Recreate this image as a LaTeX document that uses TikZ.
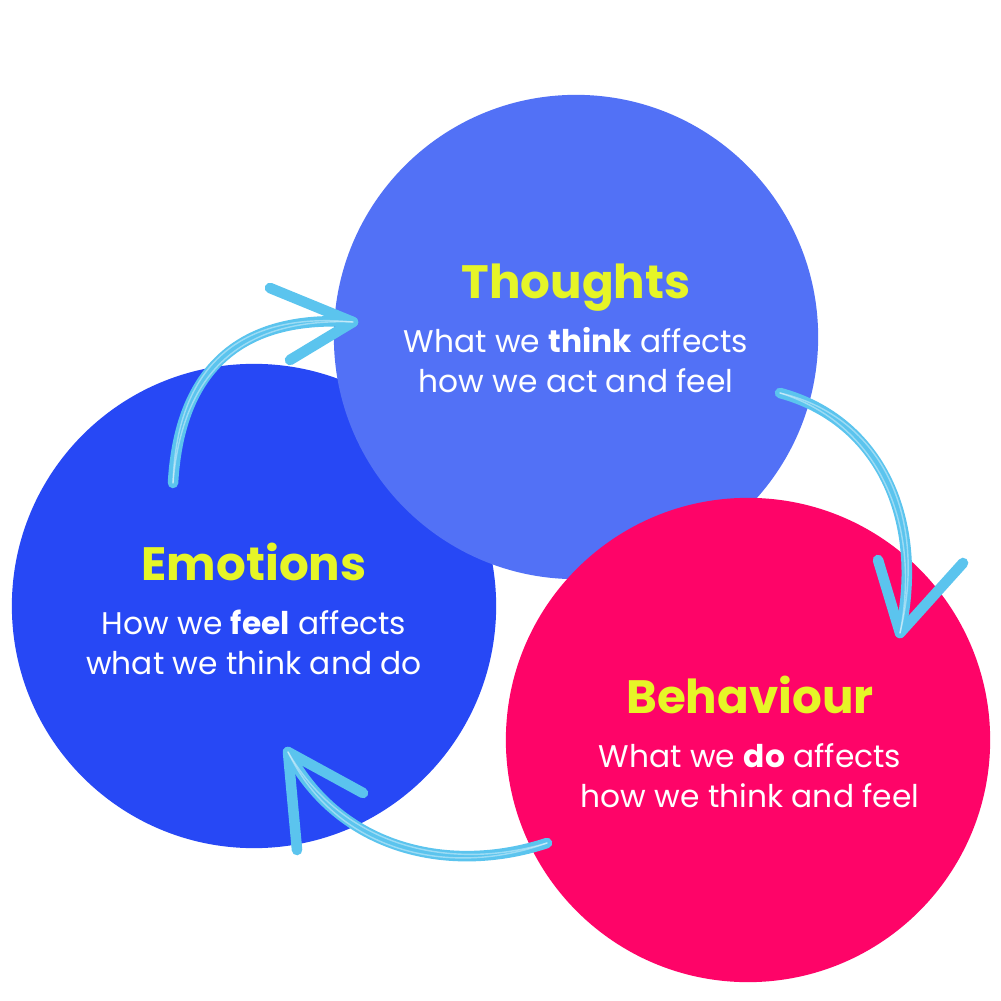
\documentclass[tikz,border=0pt]{standalone}
\usepackage{fontspec}
\setmainfont{Poppins}
\definecolor{thoughtblue}{HTML}{5271F6}
\definecolor{emotionblue}{HTML}{2748F5}
\definecolor{behaviourpink}{HTML}{FE0468}
\definecolor{titleyellow}{HTML}{E6F527}
\definecolor{chalkblue}{HTML}{5BC4EE}
\newcommand{\headline}[1]{{\fontsize{13.3}{15}\selectfont\bfseries\color{titleyellow}#1}}

\begin{document}
\begin{tikzpicture}[x=0.01cm, y=-0.01cm,
		bubble/.style={circle, minimum size=4.84cm, inner sep=0pt},
		caption/.style={text=white, align=center, font=\fontsize{8.9}{11.4}\selectfont},
		chalk/.style={chalkblue, line width=3pt, line cap=round, line join=round},
		streak/.style={white, opacity=0.4, line width=0.4pt, line cap=round}]
		
		\fill[white] (0,0) rectangle (1000,1001);
		\useasboundingbox (0,0) rectangle (1000,1001);
		
		\node[bubble, fill=emotionblue] (emotions) at (254,606) {};
		\node[bubble, fill=thoughtblue] (thoughts) at (576,337) {};
		\node[bubble, fill=behaviourpink] (behaviour) at (748,740) {};
		
		\node[caption] (emotions text) at ([shift={(0,3)}]emotions.center)
		{\headline{Emotions}\\[4pt] How we \textbf{feel} affects\\ what we think and do};
		\node[caption] (thoughts text) at ([shift={(0,-9)}]thoughts.center)
		{\headline{Thoughts}\\[4pt] What we \textbf{think} affects\\ how we act and feel};
		\node[caption] (behaviour text) at ([shift={(2,2)}]behaviour.center)
		{\headline{Behaviour}\\[4pt] What we \textbf{do} affects\\ how we think and feel};
		
		\coordinate (e2t start) at (173,483);
		\coordinate (e2t tip) at (353,322);
		\coordinate (t2b start) at (780,393);
		\coordinate (t2b tip) at (900,633);
		\coordinate (b2e start) at (547,843);
		\coordinate (b2e tip) at (288,752);
		
		% emotions -> thoughts
		\draw[chalk] (e2t start) .. controls (180,360) and (250,315) .. (e2t tip);
		\draw[chalk] ([shift={(-83,-34)}]e2t tip) -- (e2t tip) -- ++(-63,38);
		\draw[streak] (e2t start) .. controls (183,362) and (252,318) .. (e2t tip);
		\draw[streak] (e2t start) .. controls (177,358) and (248,312) .. (e2t tip);
		
		% thoughts -> behaviour
		\draw[chalk] (t2b start) .. controls (880,420) and (925,520) .. (t2b tip);
		\draw[chalk] ([shift={(-22,-73)}]t2b tip) -- (t2b tip) -- ++(63,-70);
		\draw[streak] (t2b start) .. controls (877,423) and (922,522) .. (t2b tip);
		\draw[streak] (t2b start) .. controls (883,417) and (928,518) .. (t2b tip);
		
		% behaviour -> emotions
		\draw[chalk] (b2e start) .. controls (450,875) and (340,850) .. (b2e tip);
		\draw[chalk] ([shift={(9,98)}]b2e tip) -- (b2e tip) -- ++(75,41);
		\draw[streak] (b2e start) .. controls (450,872) and (343,847) .. (b2e tip);
		\draw[streak] (b2e start) .. controls (450,878) and (337,853) .. (b2e tip);
		
	\end{tikzpicture}
\end{document}
